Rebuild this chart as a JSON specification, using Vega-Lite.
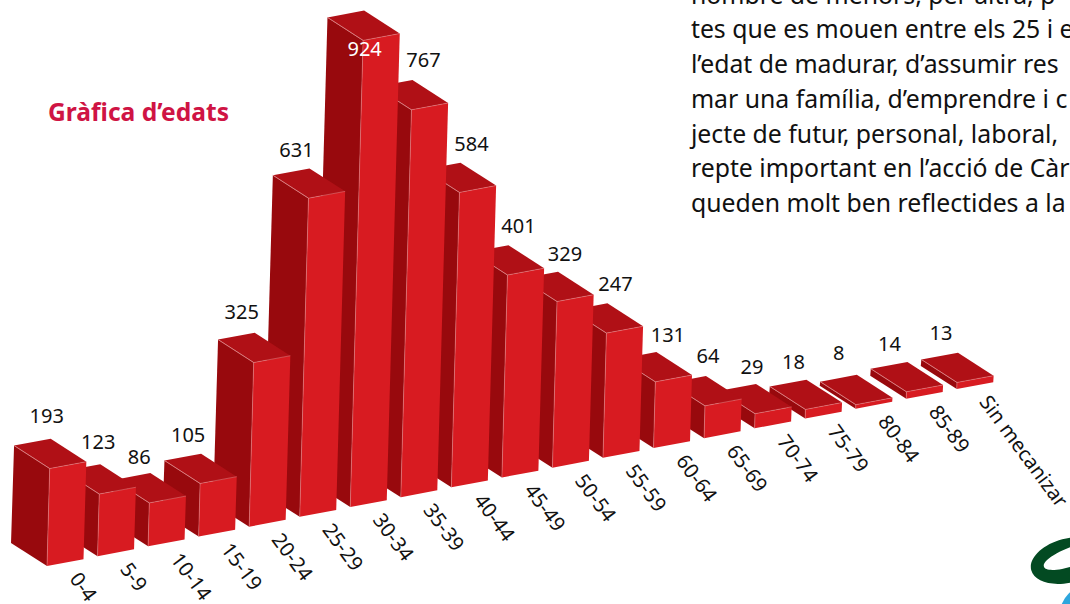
{"$schema":"https://vega.github.io/schema/vega-lite/v6.json","width":1070,"height":604,"padding":0,"autosize":{"type":"none"},"background":"white","view":{"stroke":null},
"datasets":{"ages":[{"group":"Sin mecanizar","value":13},{"group":"85-89","value":14},{"group":"80-84","value":8},{"group":"75-79","value":18},{"group":"70-74","value":29},{"group":"65-69","value":64},{"group":"60-64","value":131},{"group":"55-59","value":247},{"group":"50-54","value":329},{"group":"45-49","value":401},{"group":"40-44","value":584},{"group":"35-39","value":767},{"group":"30-34","value":924},{"group":"25-29","value":631},{"group":"20-24","value":325},{"group":"15-19","value":105},{"group":"10-14","value":86},{"group":"5-9","value":123},{"group":"0-4","value":193}]},
"layer":[
{"data":{"name":"ages"},"transform":[{"window":[{"op":"row_number","as":"row"}]},{"calculate":"19-datum.row","as":"i"},{"calculate":"datum.i","as":"xb"},{"calculate":"datum.i+datum.value*0.000275","as":"xt"},{"calculate":"19.47*datum.i","as":"yb"},{"calculate":"datum.yb+datum.value","as":"yt"},
{"calculate":"[datum.xb,datum.xt,datum.xt-0.705,datum.xb-0.712, datum.xt,datum.xt+0.725,datum.xt+0.02,datum.xt-0.705, datum.xb,datum.xb+0.722,datum.xt+0.725,datum.xt, datum.xb,datum.xt,datum.xt-0.705,datum.xt,datum.xt+0.725]","as":"vx"},
{"calculate":"[datum.yb,datum.yt,datum.yt+45.5,datum.yb+45.5, datum.yt,datum.yt+13.5,datum.yt+59,datum.yt+45.5, datum.yb,datum.yb+13.5,datum.yt+13.5,datum.yt, datum.yb,datum.yt,datum.yt+45.5,datum.yt,datum.yt+13.5]","as":"vy"},
{"calculate":"[0,1,2,3,0,1,2,3,0,1,2,3,0,1,2,3,4]","as":"k"},
{"calculate":"['side','side','side','side','top','top','top','top','front','front','front','front','edge','edge','edge','edge','edge']","as":"face"},
{"flatten":["vx","vy","k","face"]}],
"mark":{"type":"line","filled":true,"strokeWidth":0.5,"clip":true,"interpolate":"linear"},
"encoding":{"x":{"field":"vx","type":"quantitative","scale":{"domain":[-0.93,20.24],"nice":false,"zero":false},"axis":null},"y":{"field":"vy","type":"quantitative","scale":{"domain":[-75.25,1120.8],"nice":false,"zero":false},"axis":null},"order":{"field":"k","type":"quantitative"},"detail":{"field":"group"},
"fill":{"field":"face","type":"nominal","scale":{"domain":["side","top","front","edge"],"range":["#98090d","#b01016","#d81b21","transparent"]},"legend":null},
"stroke":{"field":"face","type":"nominal","scale":{"domain":["side","top","front","edge"],"range":["transparent","transparent","transparent","#e08a8c"]},"legend":null}}},
{"data":{"name":"ages"},"transform":[{"window":[{"op":"row_number","as":"row"}]},{"calculate":"19-datum.row","as":"i"},{"calculate":"datum.i+datum.value*0.000275+[-3,-1,-10,-12,-12,-12,1.5,12,12,11,8,9,12.5,3,-3,-12,-17,-17,-16][datum.i]/50.55","as":"lx"},{"calculate":"19.47*datum.i+datum.value+[52,51,44.5,47.5,50,47.5,-9.5,49,47.7,48,47,48,46,49,46,46,51,47,48.5][datum.i]/0.505","as":"ly"}],
"mark":{"type":"text","font":"Noto Sans","fontSize":20,"align":"center","baseline":"middle"},
"encoding":{"x":{"field":"lx","type":"quantitative"},"y":{"field":"ly","type":"quantitative"},"text":{"field":"value","type":"nominal"},"color":{"condition":{"test":"datum.value>=900","value":"#ffffff"},"value":"#111111"}}},
{"data":{"name":"ages"},"transform":[{"window":[{"op":"row_number","as":"row"}]},{"calculate":"19-datum.row","as":"i"},{"calculate":"datum.i+26.5/50.55","as":"lx"},{"calculate":"19.47*datum.i-9.5/0.505","as":"ly"}],
"mark":{"type":"text","font":"Noto Sans","fontSize":20.3,"align":"left","baseline":"middle","angle":53.5,"color":"#111111"},
"encoding":{"x":{"field":"lx","type":"quantitative"},"y":{"field":"ly","type":"quantitative"},"text":{"field":"group","type":"nominal"}}},
{"data":{"values":[{"label":"Gràfica d’edats"}]},"mark":{"type":"text","font":"Noto Sans","fontWeight":"bold","fontSize":24.6,"align":"left","baseline":"middle","color":"#cf1444"},
"encoding":{"x":{"datum":0.02,"type":"quantitative"},"y":{"datum":895,"type":"quantitative"},"text":{"field":"label","type":"nominal"}}},
{"data":{"values":[{"line":"nombre de menors, per altra, p"},{"line":"tes que es mouen entre els 25 i e"},{"line":"l’edat de madurar, d’assumir res"},{"line":"mar una família, d’emprendre i c"},{"line":"jecte de futur, personal, laboral,"},{"line":"repte important en l’acció de Càr"},{"line":"queden molt ben reflectides a la"}]},"transform":[{"window":[{"op":"row_number","as":"row"}]},{"calculate":"(566-(3.5+34.75*(datum.row-1)))/0.505","as":"ly"}],
"mark":{"type":"text","font":"Noto Sans","fontSize":24.8,"align":"left","baseline":"alphabetic","color":"#111111","clip":true},
"encoding":{"x":{"datum":12.74,"type":"quantitative"},"y":{"field":"ly","type":"quantitative"},"text":{"field":"line","type":"nominal"}}},
{"data":{"values":[{"part":"ring"}]},"mark":{"type":"point","filled":true,"opacity":1,"clip":true,"color":"#034a22","size":6400,"shape":"M -0.918 0.246 A 0.95 0.55 -15 1 1 0.918 -0.246 A 0.95 0.55 -15 1 1 -0.918 0.246 Z M -0.6 0.157 A 0.825 0.23 -20 1 0 0.95 -0.407 A 0.825 0.23 -20 1 0 -0.6 0.157 Z"},
"encoding":{"x":{"datum":20.2,"type":"quantitative"},"y":{"datum":10.9,"type":"quantitative"}}},
{"data":{"values":[{"part":"drop"}]},"mark":{"type":"point","filled":true,"opacity":1,"clip":true,"color":"#2ea6dd","size":3600,"shape":"circle"},
"encoding":{"x":{"datum":20.63,"type":"quantitative"},"y":{"datum":-97,"type":"quantitative"}}}
]}
